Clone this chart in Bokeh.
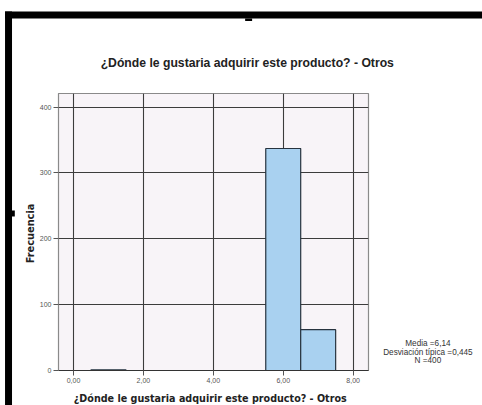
import math
from bokeh.plotting import figure
from bokeh.models import Range1d, FixedTicker
from bokeh.core.properties import value
from bokeh.embed import file_html
from bokeh.resources import INLINE

# ---- data ----
bin_left = [0.5, 5.5, 6.5]
bin_right = [1.5, 6.5, 7.5]
freq = [1, 337, 62]
x_ticks = [0, 2, 4, 6, 8]
x_tick_labels = ["0,00", "2,00", "4,00", "6,00", "8,00"]
y_ticks = [0, 100, 200, 300, 400]
title_text = "¿Dónde le  gustaria adquirir este producto? - Otros"
x_label = "¿Dónde le  gustaria adquirir este producto? - Otros"
y_label = "Frecuencia"
stats_lines = ["Media =6,14", "Desviación típica =0,445", "N =400"]

W, H = 482, 405
p = figure(width=W, height=H, output_backend="svg", toolbar_location=None,
           x_range=Range1d(-0.43, 8.44), y_range=Range1d(0, 420.5),
           min_border_left=58, min_border_right=114, min_border_top=93,
           min_border_bottom=35)
p.background_fill_color = "#f8f4f8"
p.border_fill_color = "white"
p.outline_line_color = "#8a8a8a"
p.outline_line_width = 1.2

p.quad(left=bin_left, right=bin_right, bottom=0, top=freq,
       fill_color="#a9d1f0", line_color="#27333f", line_width=1.2)

p.xaxis.ticker = FixedTicker(ticks=x_ticks)
p.xaxis.major_label_overrides = {t: l for t, l in zip(x_ticks, x_tick_labels)}
p.yaxis.ticker = FixedTicker(ticks=y_ticks)
for ax in (p.xaxis[0], p.yaxis[0]):
    ax.minor_tick_line_color = None
    ax.major_tick_in = 0
    ax.major_tick_out = 5
    ax.major_tick_line_color = "#555555"
    ax.major_label_text_font = "Liberation Sans"
    ax.major_label_text_font_size = "7px"
    ax.major_label_text_color = "#555555"
    ax.major_label_standoff = 2
p.xaxis.axis_line_color = "#333333"
p.yaxis.axis_line_color = "#8a8a8a"

p.xgrid.ticker = FixedTicker(ticks=x_ticks)
p.ygrid.ticker = FixedTicker(ticks=y_ticks)
p.xgrid.grid_line_color = "#3c3c3c"
p.ygrid.grid_line_color = "#3c3c3c"
p.xgrid.grid_line_width = 1.1
p.ygrid.grid_line_width = 1.1

# texts drawn at overlay level so they are not clipped to the frame
p.text(x=[5.02], y=[466.6], text=[title_text], text_align="center",
       text_baseline="middle", text_font=value("Liberation Sans"),
       text_font_style="bold", text_font_size="12.2px", text_color="#222222",
       level="overlay")
p.text(x=[3.96], y=[-42.5], text=[x_label], text_align="center",
       text_baseline="middle", text_font=value("DejaVu Sans"),
       text_font_style="bold", text_font_size="9.6px", text_color="#222222",
       level="overlay")
p.text(x=[-1.24], y=[208], text=[y_label], angle=math.pi / 2,
       text_align="center", text_baseline="middle",
       text_font=value("DejaVu Sans"), text_font_style="bold",
       text_font_size="9.8px", text_color="#222222", level="overlay")
p.text(x=[10.14] * 3, y=[41, 28, 15], text=stats_lines, text_align="center",
       text_baseline="middle", text_font=value("Liberation Sans"),
       text_font_size="8.2px", text_color="#333333", level="overlay")

# black border (and specks) of the original scan
p.quad(left=[-1.96, -1.96, 4.91, -1.76], right=[12, -1.76, 5.11, -1.68],
       top=[545, 545, 534.4, 242.9], bottom=[534.4, -80, 530.6, 233.8],
       fill_color="black", line_color=None, level="overlay")

open("out.html", "w").write(file_html(p, INLINE))
